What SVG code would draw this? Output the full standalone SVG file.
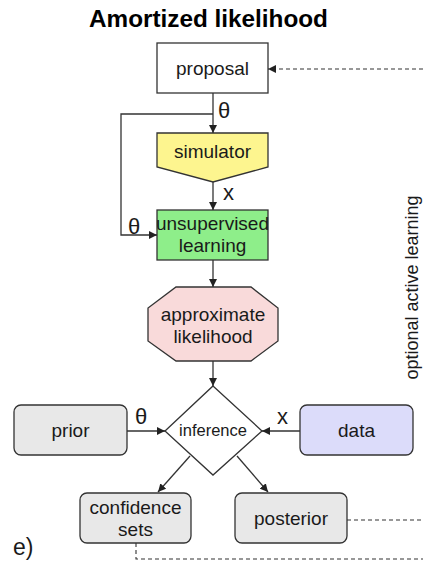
<svg xmlns="http://www.w3.org/2000/svg" width="423" height="562" viewBox="0 0 423 562">
  <style>
    text { font-family: "Liberation Sans", Arial, sans-serif; fill: #1a1a1a; }
    .title { font-size: 24.3px; font-weight: bold; text-anchor: middle; fill: #000; }
    .lbl { font-size: 19px; text-anchor: middle; }
    .sm { font-size: 16.5px; text-anchor: middle; }
    .sym { font-size: 22px; }
    .node { stroke: #333; stroke-width: 1.3; }
    .edge { fill: none; stroke: #333; stroke-width: 1.3; }
    .dash { fill: none; stroke: #333; stroke-width: 1.1; stroke-dasharray: 4 3; }
  </style>
  <defs>
    <marker id="arr" viewBox="0 0 10 10" refX="10" refY="5" markerWidth="8" markerHeight="8" markerUnits="userSpaceOnUse" orient="auto">
      <path d="M0,0 L10,5 L0,10 z" fill="#222"/>
    </marker>
  </defs>

  <text class="title" x="208.5" y="27">Amortized likelihood</text>

  <g id="proposal">
    <rect class="node" x="157" y="43" width="111" height="50" fill="#ffffff"/>
    <text class="lbl" x="212.5" y="75">proposal</text>
  </g>

  <g id="simulator">
    <polygon class="node" points="157,133 268,133 268,167 213,182 157,167" fill="#fdf58f"/>
    <text class="lbl" x="212.5" y="158">simulator</text>
  </g>

  <g id="unsupervised-learning">
    <rect class="node" x="157" y="210" width="111" height="50" fill="#8eee8a"/>
    <text class="lbl" x="212.5" y="230">unsupervised</text>
    <text class="lbl" x="212.5" y="252">learning</text>
  </g>

  <g id="approximate-likelihood">
    <polygon class="node" points="176,287 251,287 278,308 278,341 251,361 176,361 148,341 148,308" fill="#f9dada"/>
    <text class="lbl" x="213" y="321">approximate</text>
    <text class="lbl" x="213" y="343">likelihood</text>
  </g>

  <g id="inference">
    <polygon class="node" points="213,386 262,431 213,475 165,431" fill="#ffffff"/>
    <text class="sm" x="213" y="436">inference</text>
  </g>

  <g id="prior">
    <rect class="node" x="14" y="405" width="113" height="50" rx="7" fill="#e8e8e8"/>
    <text class="lbl" x="70.5" y="437">prior</text>
  </g>

  <g id="data">
    <rect class="node" x="300" y="405" width="113" height="50" rx="7" fill="#dcdcfa"/>
    <text class="lbl" x="356.5" y="437">data</text>
  </g>

  <g id="confidence-sets">
    <rect class="node" x="80" y="493" width="111" height="50" rx="7" fill="#e8e8e8"/>
    <text class="lbl" x="135.5" y="514">confidence</text>
    <text class="lbl" x="135.5" y="536">sets</text>
  </g>

  <g id="posterior">
    <rect class="node" x="235" y="493" width="112" height="50" rx="7" fill="#e8e8e8"/>
    <text class="lbl" x="291" y="525">posterior</text>
  </g>

  <g id="connectors">
    <!-- proposal to simulator -->
    <line class="edge" x1="213" y1="93" x2="213" y2="133" marker-end="url(#arr)"/>
    <!-- theta bypass to unsupervised learning -->
    <polyline class="edge" points="213,114 121,114 121,235 157,235" marker-end="url(#arr)"/>
    <!-- simulator to unsupervised learning -->
    <line class="edge" x1="213" y1="182" x2="213" y2="210" marker-end="url(#arr)"/>
    <!-- unsupervised learning to approximate likelihood -->
    <line class="edge" x1="213" y1="260" x2="213" y2="287" marker-end="url(#arr)"/>
    <!-- approximate likelihood to inference -->
    <line class="edge" x1="213" y1="361" x2="213" y2="386" marker-end="url(#arr)"/>
    <!-- prior and data into inference -->
    <line class="edge" x1="127" y1="431" x2="165" y2="431" marker-end="url(#arr)"/>
    <line class="edge" x1="300" y1="431" x2="262" y2="431" marker-end="url(#arr)"/>
    <!-- inference outputs -->
    <line class="edge" x1="190" y1="456" x2="158" y2="492" marker-end="url(#arr)"/>
    <line class="edge" x1="237" y1="456" x2="268" y2="492" marker-end="url(#arr)"/>
    <!-- optional active learning feedback -->
    <line class="dash" x1="423" y1="69" x2="268" y2="69" marker-end="url(#arr)"/>
    <line class="dash" x1="347" y1="520" x2="423" y2="520"/>
    <polyline class="dash" points="136,543 136,559 423,559"/>

    <text class="sym" x="218" y="118">θ</text>
    <text class="sym" x="128" y="234">θ</text>
    <text class="sym" x="223" y="200">x</text>
    <text class="sym" x="135" y="424">θ</text>
    <text class="sym" x="277" y="424">x</text>
  </g>

  <text class="lbl" transform="translate(417.5,287.5) rotate(-90)" style="font-size:18px">optional active learning</text>
  <text x="13" y="555" style="font-size:23px">e)</text>
</svg>
